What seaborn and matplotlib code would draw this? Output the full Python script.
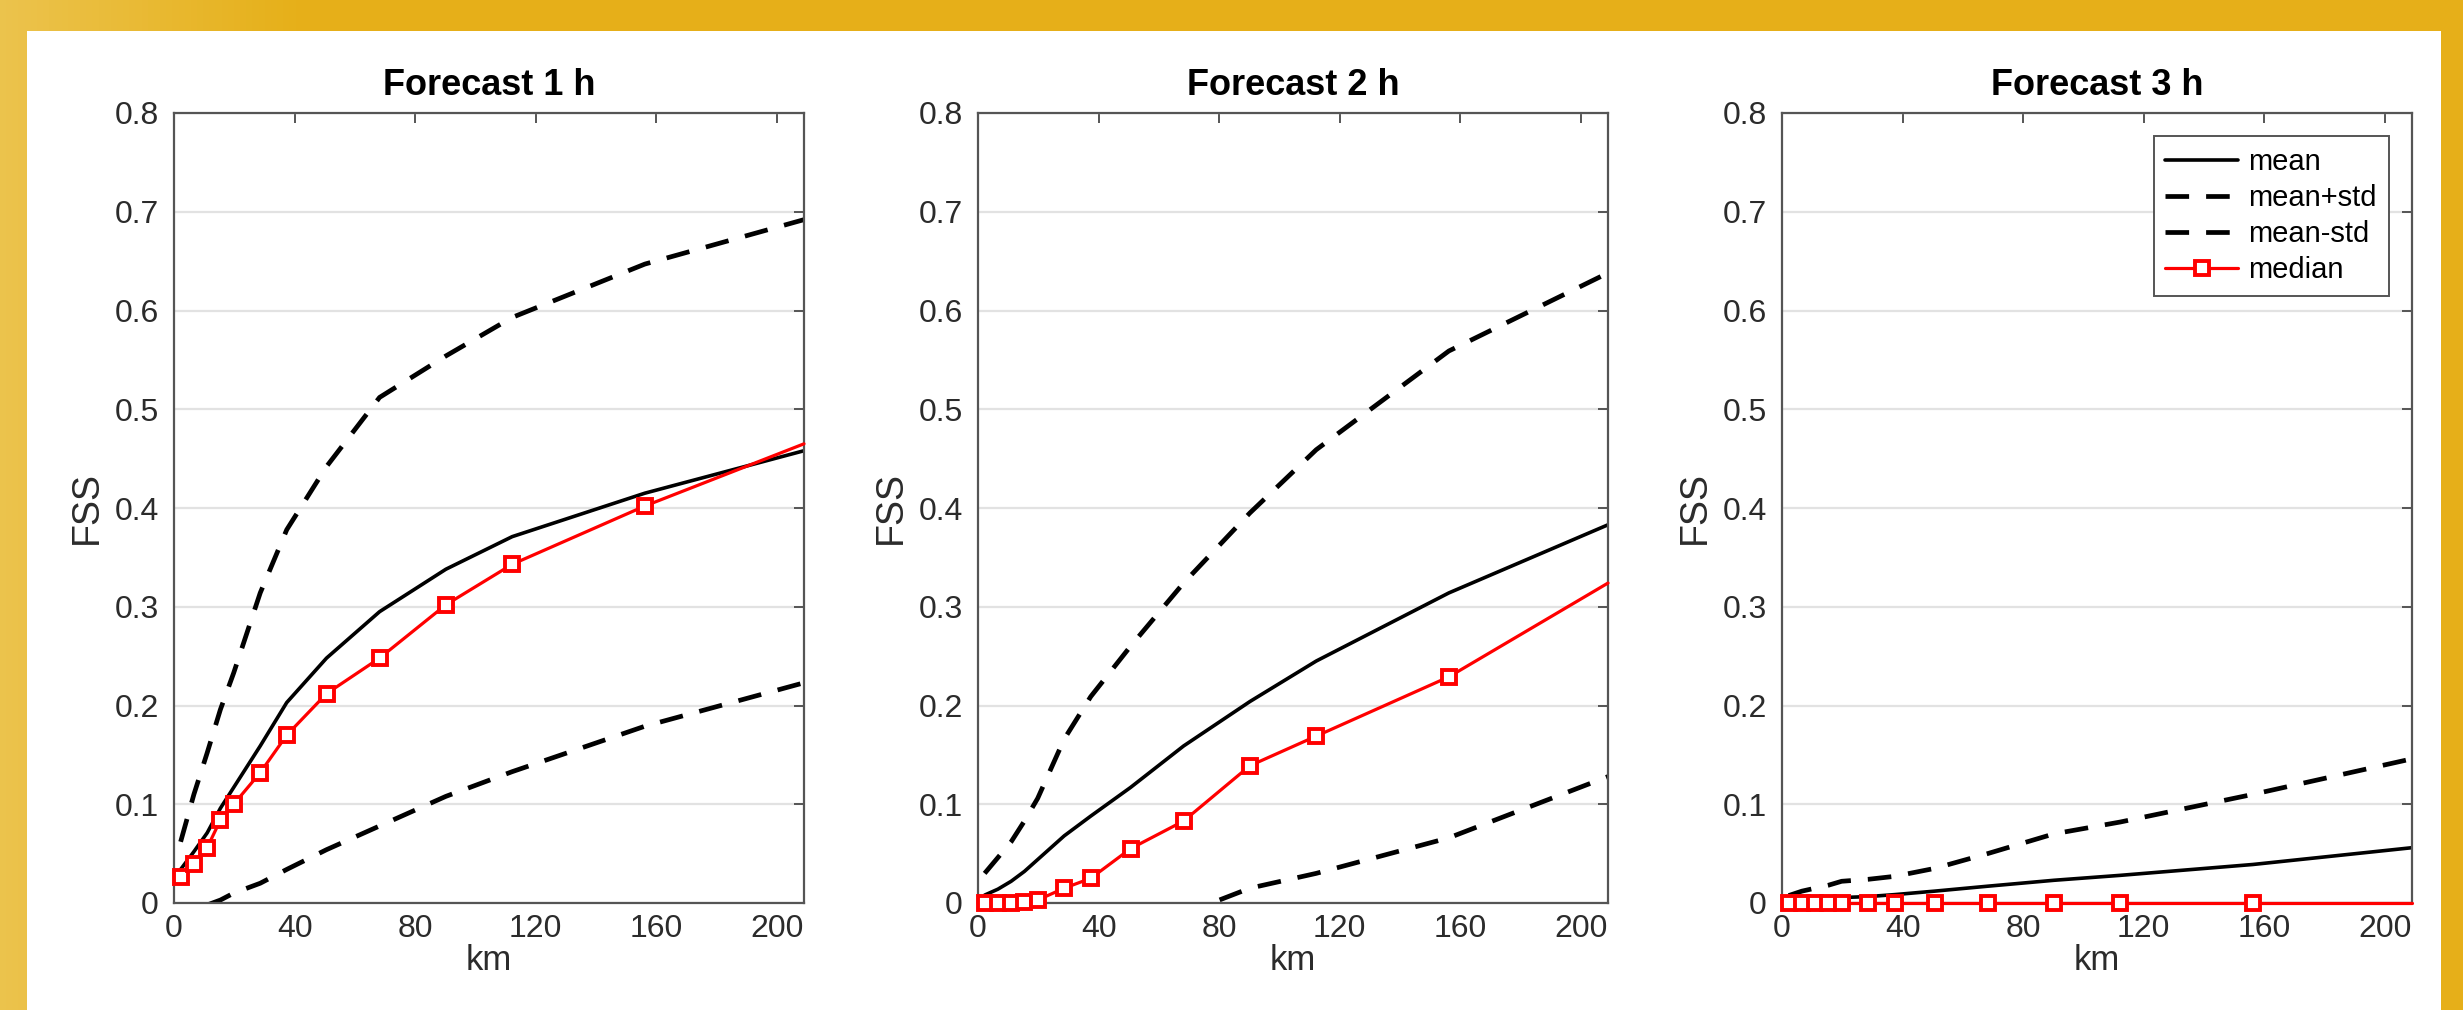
import numpy as np
import matplotlib
matplotlib.use("Agg")
import matplotlib.pyplot as plt
from matplotlib.patches import Rectangle
import seaborn as sns

# ---- data ----
km = [2.2, 6.6, 11.0, 15.4, 19.8, 28.6, 37.4, 50.6, 68.2, 90.2, 112.2, 156.2, 209.0]

mean_1h = [0.034, 0.052, 0.071, 0.096, 0.117, 0.159, 0.203, 0.248, 0.295, 0.338, 0.371, 0.415, 0.458]
plus_1h = [0.062, 0.110, 0.152, 0.196, 0.233, 0.314, 0.378, 0.442, 0.512, 0.554, 0.593, 0.647, 0.692]
minus_1h = [-0.030, -0.012, -0.002, 0.003, 0.010, 0.020, 0.034, 0.054, 0.078, 0.108, 0.133, 0.179, 0.223]
median_1h = [0.026, 0.040, 0.056, 0.084, 0.100, 0.132, 0.170, 0.212, 0.248, 0.302, 0.343, 0.402, 0.465]

mean_2h = [0.008, 0.014, 0.022, 0.032, 0.044, 0.068, 0.088, 0.117, 0.159, 0.204, 0.245, 0.314, 0.383]
plus_2h = [0.030, 0.046, 0.062, 0.083, 0.106, 0.166, 0.209, 0.260, 0.324, 0.395, 0.459, 0.559, 0.638]
minus_2h = [-0.014, -0.018, -0.018, -0.019, -0.018, -0.030, -0.033, -0.027, -0.011, 0.015, 0.030, 0.066, 0.128]
median_2h = [0.0, 0.0, 0.0, 0.001, 0.003, 0.015, 0.025, 0.055, 0.083, 0.139, 0.169, 0.229, 0.324]

mean_3h = [0.006, 0.005, 0.005, 0.005, 0.0055, 0.0065, 0.0085, 0.012, 0.017, 0.023, 0.028, 0.039, 0.056]
plus_3h = [0.0075, 0.012, 0.015, 0.018, 0.022, 0.024, 0.027, 0.035, 0.050, 0.070, 0.082, 0.110, 0.146]
minus_3h = [-0.001, -0.002, -0.005, -0.008, -0.011, -0.011, -0.010, -0.011, -0.016, -0.024, -0.026, -0.032, -0.034]
median_3h = [0.0, 0.0, 0.0, 0.0, 0.0, 0.0, 0.0, 0.0, 0.0, 0.0, 0.0, 0.0, 0.0]

titles = ['Forecast 1 h', 'Forecast 2 h', 'Forecast 3 h']
panels = [
    (mean_1h, plus_1h, minus_1h, median_1h),
    (mean_2h, plus_2h, minus_2h, median_2h),
    (mean_3h, plus_3h, minus_3h, median_3h),
]
legend_labels = ['mean', 'mean+std', 'mean-std', 'median']
x_ticks = [0, 40, 80, 120, 160, 200]
y_ticks = [0, 0.1, 0.2, 0.3, 0.4, 0.5, 0.6, 0.7, 0.8]

sns.set_theme(style='white')
plt.rcParams['font.family'] = ['Liberation Sans', 'DejaVu Sans']

W, H = 2463, 1010
fig = plt.figure(figsize=(W / 100, H / 100), dpi=100)

# gold frame behind a white sheet
bg = fig.add_axes([0, 0, 1, 1], zorder=-10)
bg.axis('off')
t = np.clip(np.linspace(0, 1, 400) / 0.12, 0, 1)
c0 = np.array([0.925, 0.765, 0.300])
c1 = np.array([0.902, 0.690, 0.100])
grad = (c0[None, :] * (1 - t[:, None]) + c1[None, :] * t[:, None])[None, :, :]
bg.imshow(grad, extent=[0, 1, 0, 1], aspect='auto', transform=bg.transAxes)
bg.set_xlim(0, 1)
bg.set_ylim(0, 1)
fig.patches.append(Rectangle((27 / W, 0), (2441 - 27) / W, (H - 31) / H,
                             transform=fig.transFigure, facecolor='white',
                             edgecolor='none', zorder=-5))

lefts = [174, 978, 1782]
ax_w, ax_bottom, ax_h = 630, 107, 790
dash = (0, (5.0, 3.6))
edge = '#555555'
txt = '#2b2b2b'

for i, (left, title, (mean, plus, minus, median)) in enumerate(zip(lefts, titles, panels)):
    ax = fig.add_axes([left / W, ax_bottom / H, ax_w / W, ax_h / H])
    handles = []
    sns.lineplot(x=km, y=mean, ax=ax, color='black', lw=2.6,
                 estimator=None, sort=False, legend=False)
    handles.append(ax.lines[-1])
    sns.lineplot(x=km, y=plus, ax=ax, color='black', lw=3.4, linestyle=dash,
                 estimator=None, sort=False, legend=False)
    handles.append(ax.lines[-1])
    sns.lineplot(x=km, y=minus, ax=ax, color='black', lw=3.4, linestyle=dash,
                 estimator=None, sort=False, legend=False)
    handles.append(ax.lines[-1])
    sns.lineplot(x=km, y=median, ax=ax, color='red', lw=2.3,
                 marker='s', markersize=10.5, markeredgewidth=2.8,
                 markeredgecolor='red', markerfacecolor='white',
                 markevery=list(range(len(km) - 1)), clip_on=False, zorder=5,
                 estimator=None, sort=False, legend=False)
    handles.append(ax.lines[-1])

    ax.set_xlim(0, 209)
    ax.set_ylim(0, 0.8)
    ax.set_xticks(x_ticks)
    ax.set_yticks(y_ticks)
    ax.set_yticklabels(['0'] + [f'{v:.1f}' for v in y_ticks[1:]])
    ax.yaxis.grid(True, color='#e2e2e2', lw=1.6)
    ax.xaxis.grid(False)
    ax.set_axisbelow(True)
    for sp in ax.spines.values():
        sp.set_color(edge)
        sp.set_linewidth(1.6)
    ax.tick_params(direction='in', length=7, width=1.4, color=edge,
                   top=True, right=True, labelcolor=txt, labelsize=23)
    ax.tick_params(axis='y', pad=11)
    ax.tick_params(axis='x', pad=8)
    ax.set_title(title, fontsize=26, fontweight='bold', color='black', pad=13)
    ax.set_xlabel('km', fontsize=25, color=txt, labelpad=0)
    ax.set_ylabel('FSS', fontsize=27, color=txt, labelpad=7)

    if i == 2:
        leg = ax.legend(handles, legend_labels, loc='upper right', fontsize=21,
                        frameon=True, fancybox=False, framealpha=1,
                        edgecolor=edge, handlelength=2.5, handletextpad=0.35,
                        labelspacing=0.28, borderpad=0.4, borderaxespad=0.8)
        leg.get_frame().set_linewidth(1.4)
        for text in leg.get_texts():
            text.set_color('black')

fig.savefig('out.png', dpi=100)
